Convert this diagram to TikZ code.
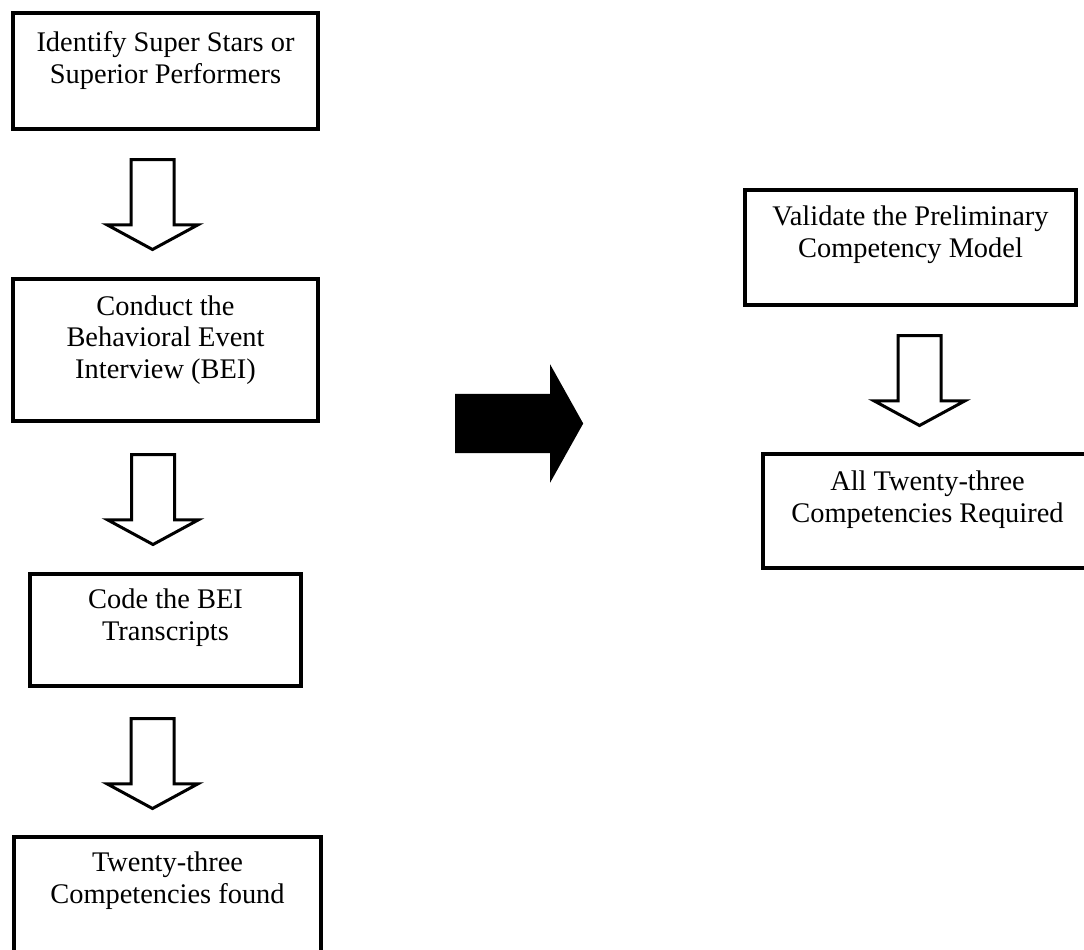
\documentclass[tikz,border=0pt]{standalone}
\usepackage{fontspec}
\setmainfont{Liberation Serif}
\usetikzlibrary{shapes.arrows}
\begin{document}
\begin{tikzpicture}[x=1pt,y=-1pt,
  stagebox/.style={draw=black, line width=4pt, rectangle, inner sep=0pt},
  % the base anchor of a multi-line node sits on its last line
  stagetext/.style={font=\fontsize{28.4}{31.5}\selectfont, align=center, anchor=base, inner sep=0pt},
  hollowarrow/.style={single arrow, draw=black, line width=3pt, fill=white,
    rotate=-90, anchor=tail, inner sep=20pt, minimum width=88pt, minimum height=90pt,
    single arrow head extend=24pt, single arrow tip angle=123},
  bigarrow/.style={single arrow, draw=none, fill=black, anchor=tail,
    inner sep=29.5pt, minimum width=118pt, minimum height=128pt,
    single arrow head extend=29.5pt, single arrow tip angle=121.6}
]
\useasboundingbox (0,0) rectangle (1084,950);
\clip (0,0) rectangle (1084,950);

% left column
\node[stagebox, minimum width=305pt, minimum height=116pt] (b1) at (165.5,71) {};
\node[stagetext] (t1) at (165.5,83) {Identify Super Stars or\\Superior Performers};

\node[hollowarrow] (a1) at (152.5,158) {};

\node[stagebox, minimum width=305pt, minimum height=142pt] (b2) at (165.5,350) {};
\node[stagetext] (t2) at (165.5,378) {Conduct the\\Behavioral Event\\Interview (BEI)};

\node[hollowarrow] (a2) at (153,453) {};

\node[stagebox, minimum width=271pt, minimum height=112pt] (b3) at (165.5,630) {};
\node[stagetext] (t3) at (165.5,640) {Code the BEI\\Transcripts};

\node[hollowarrow] (a3) at (152.5,717) {};

\node[stagebox, minimum width=307pt, minimum height=143pt] (b4) at (167.5,908.5) {};
\node[stagetext] (t4) at (167.5,903) {Twenty-three\\Competencies found};

% transition to the right column
\node[bigarrow] (big) at (455,423.5) {};

% right column
\node[stagebox, minimum width=331pt, minimum height=115pt] (b5) at (910.5,247.5) {};
\node[stagetext] (t5) at (910.5,257) {Validate the Preliminary\\Competency Model};

\node[hollowarrow] (a4) at (919.5,334) {};

\node[stagebox, minimum width=329pt, minimum height=114pt] (b6) at (927.5,511) {};
\node[stagetext] (t6) at (927.5,522) {All Twenty-three\\Competencies Required};
\end{tikzpicture}
\end{document}
